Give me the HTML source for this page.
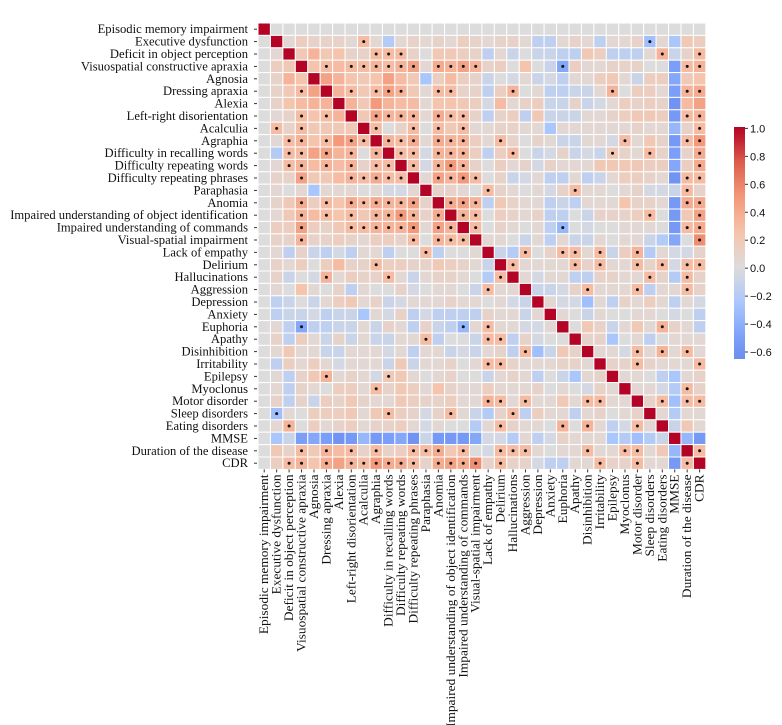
<!DOCTYPE html>
<html><head><meta charset="utf-8"><style>
html,body{margin:0;padding:0;background:#fff;width:782px;height:725px;overflow:hidden}
svg{display:block}
text{font-family:"Liberation Serif",serif;fill:#111}
.cb{font-family:"Liberation Sans",sans-serif;font-size:11px}
</style></head><body>
<svg id="chart" width="782" height="725" xmlns="http://www.w3.org/2000/svg"></svg>
<script>
const labels = ["Episodic memory impairment","Executive dysfunction","Deficit in object perception","Visuospatial constructive apraxia","Agnosia","Dressing apraxia","Alexia","Left-right disorientation","Acalculia","Agraphia","Difficulty in recalling words","Difficulty repeating words","Difficulty repeating phrases","Paraphasia","Anomia","Impaired understanding of object identification","Impaired understanding of commands","Visual-spatial impairment","Lack of empathy","Delirium","Hallucinations","Aggression","Depression","Anxiety","Euphoria","Apathy","Disinhibition","Irritability","Epilepsy","Myoclonus","Motor disorder","Sleep disorders","Eating disorders","MMSE","Duration of the disease","CDR"];
// lower triangle rows (row i, cols 0..i-1); "*" marks significance
const lowerRows = [
"",
"0",
"0 .05",
"0 .15 .2",
"0 .1 .35 .25",
"0 .1 .2 .3* .45",
"0 .1 .25 .3 .35 .35",
"0 .05 .1 .3* .25 .3* .35",
"0 .3* .1 .3* .2 .2 .2 .2",
"0 .05 .3* .35* .25 .3* .5 .45* .3*",
"0 -.2 .3* .3* .45 .45* .35 .35* 0 .35*",
"0 .05 .3* .35* .3 .35* .3 .35* .1 .3* .3*",
"0 .1 .1 .45* .2 .2 .3 .35* .3* .4* .3* .3*",
"0 .05 0 .05 -.25 .05 .05 .05 0 .05 -.05 -.05 .05",
"0 .1 .2 .4* .15 .3* .25 .4* .3* .4* .35* .35* .45* .1",
"0 .05 .2 .35* .3 .3* .25 .3* .2 .35* .35* .5* .35* .1 .4*",
"0 .15 .15 .45* .15 .1 .2 .3* .3* .35* .35* .35* .5* .05 .45* .35*",
"0 .1 .1 .35* .1 .1 .15 .1 .05 .15 .15 .1 .3* 0 .35* .3* .3*",
"0 .05 -.15 .1 -.1 -.15 -.05 -.15 .05 .05 -.15 0 0 .3* -.15 0 0 .05",
"0 .1 .05 .15 0 .15 .3 .1 .1 .3* .15 .15 .1 .1 .2 .15 .1 .05 -.1",
"0 .1 -.1 0 -.05 .35* .05 .15 .1 .1 .3* .05 -.1 .05 .1 .1 .05 0 -.2 .3*",
"0 .05 0 .25 .05 0 .1 -.15 .05 0 0 .1 -.05 0 .05 .05 0 -.1 .3* .05 .05",
"0 -.15 -.1 0 -.1 .05 .15 .2 .05 .1 -.1 -.05 .05 .05 .05 .1 .05 .05 0 .05 -.05 -.1",
"0 -.15 -.1 -.1 -.05 -.15 -.1 -.1 -.25 .05 -.05 .1 -.15 -.05 -.15 -.15 -.15 -.15 .1 .05 .05 -.1 .05",
"0 .05 -.15 -.45* -.15 -.15 -.1 -.1 .05 -.1 .1 .05 -.15 .1 -.1 -.15 -.35* .05 .3* .05 .05 -.05 -.05 .05",
"0 .1 -.15 .15 .05 -.1 .1 -.1 .05 -.1 -.1 .05 .05 .3* -.15 0 0 -.1 .3* .3* -.15 .1 -.05 0 0",
"0 .05 .2 .05 .05 -.1 -.1 .05 .05 .05 -.05 .05 -.15 .05 .05 -.1 -.05 -.1 .05 .1 -.15 .3* -.3 -.1 .2 .1",
"0 -.15 .15 .05 .15 .05 -.05 .05 .05 .05 -.1 .2 -.1 .05 .05 .1 0 .05 .3* .3* .1 .05 .05 .05 .1 .1 .05",
"0 .05 -.15 .1 .2 .35* .05 .1 .05 -.05 .2* .2 .05 0 .05 .1 0 0 -.1 .05 .1 .05 -.15 0 -.1 -.25 .05 .1",
"0 .05 -.15 .1 .05 0 .15 .15 .05 .3* .1 .2 .15 .05 .25 .1 .05 .05 .15 .05 .05 .05 .1 0 .05 0 -.05 .1 .05",
"0 .1 -.15 .1 -.1 .15 .1 .2 .1 .05 .05 .2 .15 .1 .1 .15 .05 .05 .35* .3* .05 .3* .05 .05 .2 .05 .3* .3* .05 .05",
"0 -.3* .05 0 .15 .15 .15 .2 .05 .2 .3* .15 .1 -.05 .1 .3* .05 -.1 -.2 .1 .3* -.15 .15 .05 .05 -.15 .05 .1 0 .05 .1",
"0 .05 .35* 0 .15 .05 .1 .15 .05 .1 .1 .15 .05 -.05 .05 0 0 -.2 .05 .3* .1 .05 .05 0 .35* 0 .35* .05 -.15 -.05 .3* .05",
"0 -.25 -.1 -.5 -.45 -.5 -.6 -.55 -.35 -.55 -.5 -.45 -.6 -.1 -.55 -.55 -.55 -.45 -.05 -.05 -.2 .05 -.15 -.05 .1 .05 .05 .05 -.25 -.2 -.3 -.2 -.1",
"0 .2 .1 .3* .2 .35* .3 .3* .1 .3* .1 .15 .3* .3* .4* .2 .3* 0 -.05 .3* .3* .3* .05 0 .05 .05 .3* .05 .05 .3* .3* .05 .2 -.35",
"0 .15 .3* .35* .25 .4* .45 .35* .3* .5* .4* .4* .3* .1 .4* .45* .4* .55* .1 .3* .1 .1 -.05 -.15 -.15 .05 .05 .3* .1 .1 .3* .05 .05 -.55 .3*"
];
const cbTicks = [1.0,0.8,0.6,0.4,0.2,0.0,-0.2,-0.4,-0.6];
const cbTickText = ["1.0","0.8","0.6","0.4","0.2","0.0","\u22120.2","\u22120.4","\u22120.6"];
const vMin = -0.65, vMax = 1.01;

const N = labels.length;
const X0=258, Y0=23, CW=12.44, CH=12.4;
const xPos = j => X0 + j*CW;
const yPos = i => Y0 + i*CH;
const val = [], sig = [];
for(let i=0;i<N;i++){val.push(new Array(N).fill(0));sig.push(new Array(N).fill(false));val[i][i]=1;}
for(let i=1;i<N;i++){
  const toks = lowerRows[i].trim().split(/\s+/);
  for(let j=0;j<i;j++){
    const t = toks[j]||"0";
    const s = t.indexOf('*')>=0;
    const v = parseFloat(t.replace('*',''))||0;
    val[i][j]=val[j][i]=v; sig[i][j]=sig[j][i]=s;
  }
}
const stops=[[0,[59,76,192]],[0.125,[98,130,234]],[0.25,[123,159,249]],[0.375,[170,199,253]],[0.5,[221,220,220]],[0.625,[245,196,173]],[0.75,[244,154,123]],[0.875,[222,96,77]],[1,[180,4,38]]];
function color(v){
  let t=(v+1)/2; t=Math.max(0,Math.min(1,t));
  for(let k=1;k<stops.length;k++){
    if(t<=stops[k][0]){const a=stops[k-1],b=stops[k];const f=(t-a[0])/(b[0]-a[0]);
      const c=a[1].map((x,idx)=>Math.round(x+(b[1][idx]-x)*f));return `rgb(${c[0]},${c[1]},${c[2]})`;}
  }
  return 'rgb(180,4,38)';
}
const NS="http://www.w3.org/2000/svg";
const svg=document.getElementById('chart');
function mk(tag,attrs,parent){const e=document.createElementNS(NS,tag);for(const k in attrs)e.setAttribute(k,attrs[k]);(parent||svg).appendChild(e);return e;}
const cells=mk('g',{});


for(let i=0;i<N;i++)for(let j=0;j<N;j++){
  const r=mk('rect',{x:xPos(j),y:yPos(i),width:CW,height:CH,fill:color(val[i][j]),stroke:'#fff','stroke-width':1},cells);
  
  
  if(sig[i][j]&&i!==j){
    const d=mk('circle',{cx:xPos(j)+CW/2,cy:yPos(i)+CH/2,r:1.5,fill:'#111'},cells);
    
    
  }
}
for(let i=0;i<N;i++){
  const cy=yPos(i)+CH/2;
  mk('line',{x1:254,x2:257,y1:cy,y2:cy,stroke:'#333','stroke-width':1});
  const t=mk('text',{x:248,y:cy+4,'text-anchor':'end','font-size':12.6});
  t.textContent=labels[i];
  
  
}
const yb=yPos(N);
for(let j=0;j<N;j++){
  const cx=xPos(j)+CW/2;
  mk('line',{x1:cx,x2:cx,y1:yb,y2:yb+3,stroke:'#333','stroke-width':1});
  const t=mk('text',{transform:`translate(${cx+4},${yb+5}) rotate(-90) scale(1.08,1)`,'text-anchor':'end','font-size':12.4});
  t.textContent=labels[j];
  
  
}
const CBX=734,CBW=11,CBT=127,CBB=359;
const cbY=v=>CBB-(v-vMin)/(vMax-vMin)*(CBB-CBT);
const defs=mk('defs',{});
const grad=mk('linearGradient',{id:'cbg',x1:0,y1:1,x2:0,y2:0},defs);
for(let k=0;k<=20;k++){const v=vMin+(vMax-vMin)*k/20;mk('stop',{offset:k/20,'stop-color':color(v)},grad);}
const cb=mk('rect',{x:CBX,y:CBT,width:CBW,height:CBB-CBT,fill:'url(#cbg)'});


cbTicks.forEach((v,k)=>{
  const y=cbY(v);
  mk('line',{x1:CBX+CBW,x2:CBX+CBW+3,y1:y,y2:y,stroke:'#333','stroke-width':1});
  const t=mk('text',{x:CBX+CBW+5,y:y+4,class:'cb'});
  t.textContent=cbTickText[k];
  
  
});
</script>
</body></html>
